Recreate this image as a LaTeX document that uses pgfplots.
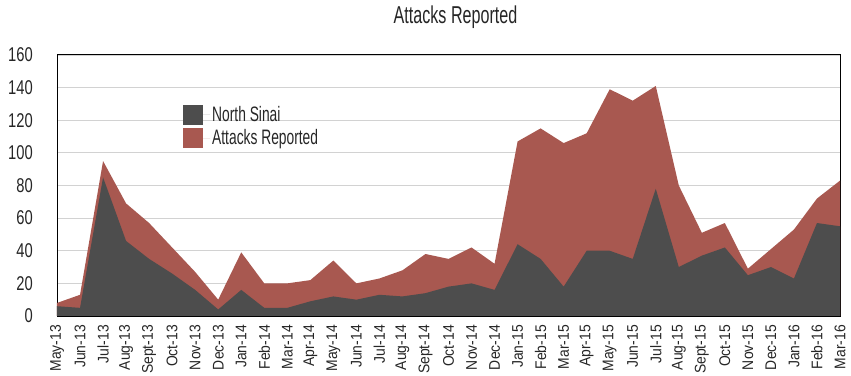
\documentclass[border=0pt]{standalone}
\usepackage{pgfplots}
\pgfplotsset{compat=1.18}
\usepackage{pgfplotstable}
\usepackage{fontspec}
\setmainfont{Liberation Sans}[FakeStretch=0.66]
\newfontfamily\yfont{Liberation Sans}[FakeStretch=0.74]
\newfontfamily\xfont{Liberation Sans}[FakeStretch=0.9]
\definecolor{redA}{RGB}{168,88,80}
\definecolor{darkA}{RGB}{77,77,77}
\pgfplotstableread{
i total ns
0 8 6
1 13 5
2 95 85
3 69 46
4 57 35
5 42 26
6 27 16
7 10 4
8 39 16
9 20 5
10 20 5
11 22 9
12 34 12
13 20 10
14 23 13
15 28 12
16 38 14
17 35 18
18 42 20
19 32 16
20 107 44
21 115 35
22 106 18
23 112 40
24 139 40
25 132 35
26 141 78
27 80 30
28 51 37
29 57 42
30 29 25
31 41 30
32 53 23
33 72 57
34 83 55
}\datatable
\begin{document}
\begin{tikzpicture}
\useasboundingbox (-57bp,-60bp) rectangle (794bp,316bp);
\begin{axis}[at={(0,0)}, anchor=south west, scale only axis,
  width=783bp, height=261bp,
  xmin=0, xmax=34, ymin=0, ymax=160,
  ytick={0,20,...,160},
  ymajorgrids, grid style={gray!35, line width=0.8pt},
  xtick={0,...,34},
  xticklabels={May-13,Jun-13,Jul-13,Aug-13,Sept-13,Oct-13,Nov-13,Dec-13,Jan-14,Feb-14,Mar-14,Apr-14,May-14,Jun-14,Jul-14,Aug-14,Sept-14,Oct-14,Nov-14,Dec-14,Jan-15,Feb-15,Mar-15,Apr-15,May-15,Jun-15,Jul-15,Aug-15,Sept-15,Oct-15,Nov-15,Dec-15,Jan-16,Feb-16,Mar-16},
  xticklabel style={rotate=90, anchor=east, inner sep=0pt, xshift=-9bp, font=\xfont\fontsize{15.5}{16}\selectfont, text=black!85},
  yticklabel style={anchor=east, inner sep=0pt, xshift=-24bp, font=\yfont\fontsize{20}{20}\selectfont, text=black!85},
  major tick length=0pt,
  axis line style={black, line width=1pt},
  /pgf/number format/assume math mode=true,
  title={Attacks Reported},
  title style={at={(0.5,1)}, anchor=base, inner sep=0pt, yshift=26bp, xshift=7bp, font=\fontsize{24.5}{25}\selectfont, text=black!85},
  legend style={at={(126bp,212bp)}, anchor=north west, draw=none, fill=none, inner sep=0pt,
    font=\fontsize{21}{21}\selectfont, text=black!85, row sep=3bp, cells={anchor=west}},
  legend cell align=left,
  reverse legend,
  legend image code/.code={\fill[#1] (0bp,-10bp) rectangle (20bp,10bp); \path (20bp,0bp) -- (27bp,0bp);},
]
\addplot[fill=redA, draw=none] table[x=i, y=total] {\datatable} \closedcycle;
\addlegendentry{Attacks Reported}
\addplot[fill=darkA, draw=none] table[x=i, y=ns] {\datatable} \closedcycle;
\addlegendentry{North Sinai}
\end{axis}
\end{tikzpicture}
\end{document}
